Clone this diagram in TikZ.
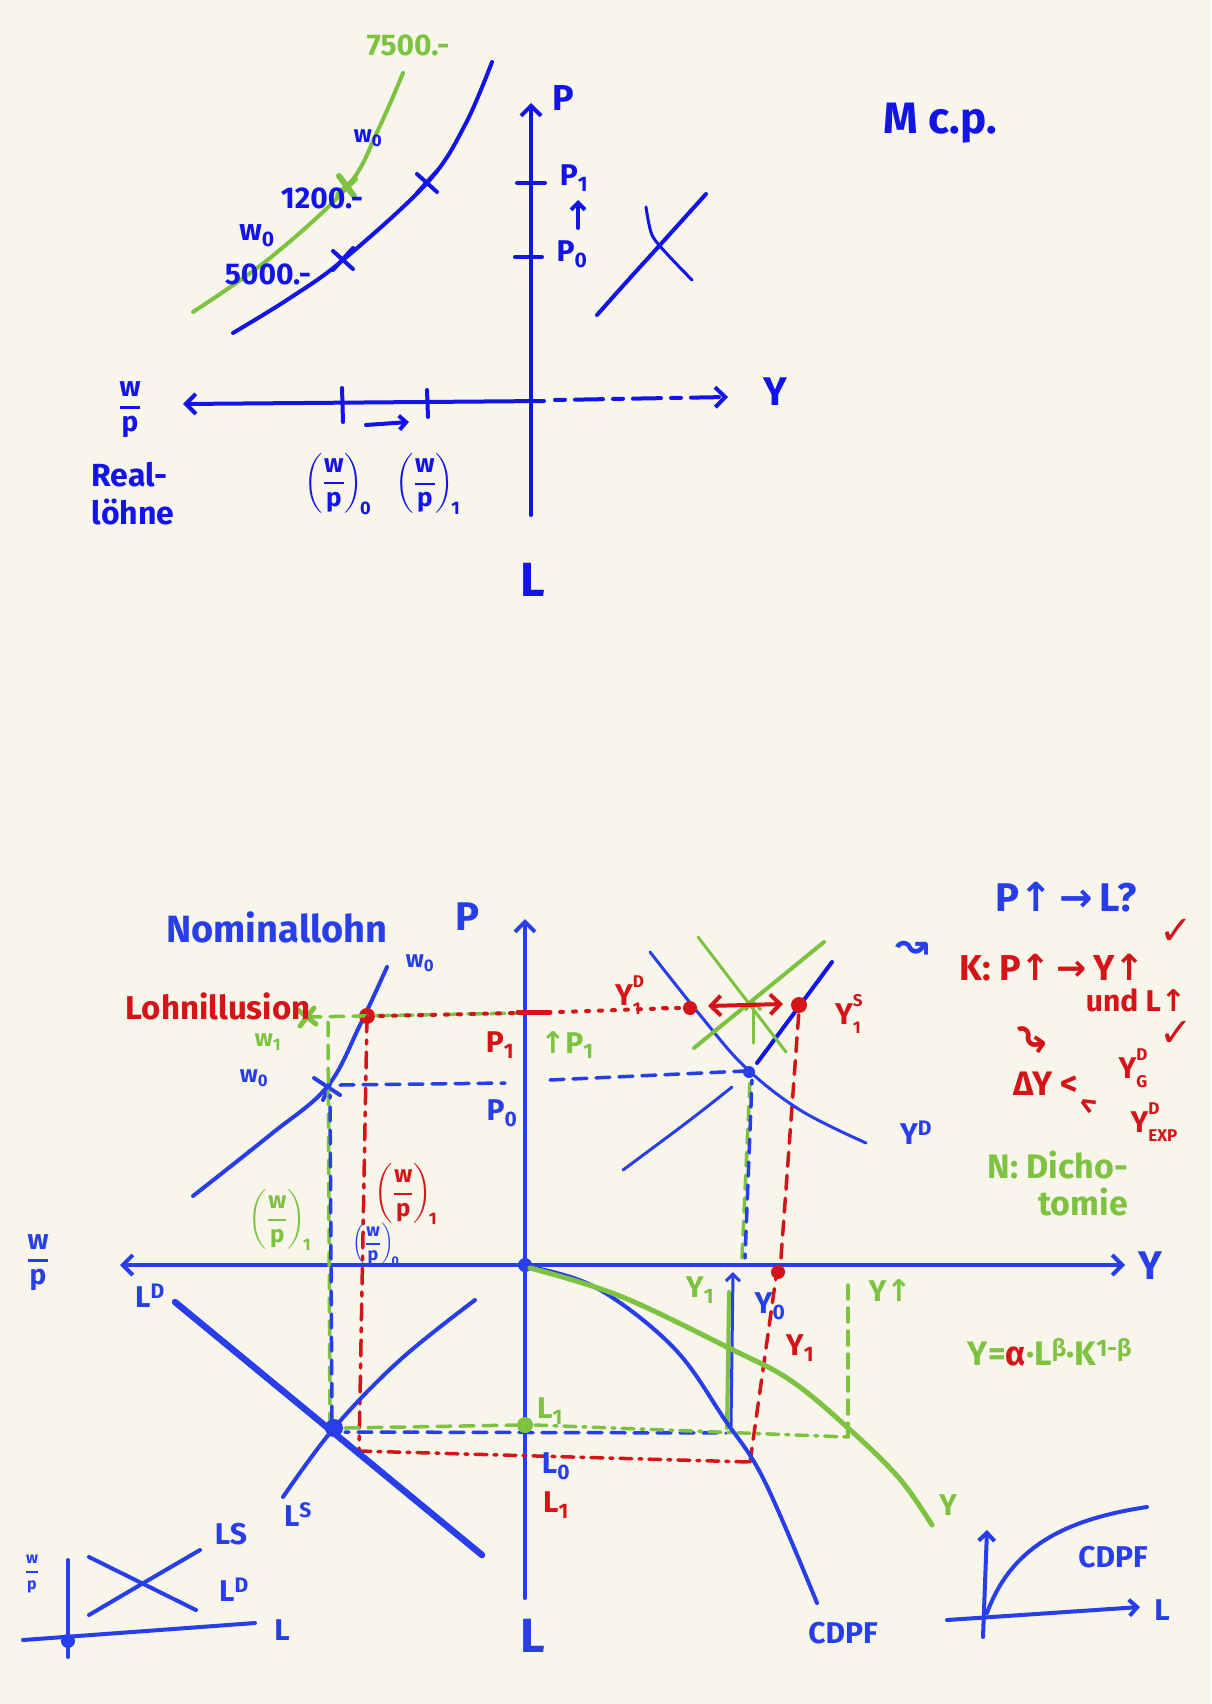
\documentclass[tikz,border=0pt]{standalone}
\usepackage{amsmath}
\usepackage{fontspec}
\setmainfont{Fira Sans}
\newfontfamily\symfnt{DejaVu Sans}
\usetikzlibrary{arrows.meta}
\definecolor{bg}{RGB}{248,245,234}
\definecolor{tb}{RGB}{18,20,232}
\definecolor{pb}{RGB}{40,62,232}
\definecolor{pg}{RGB}{126,194,66}
\definecolor{pr}{RGB}{212,20,24}
\newcommand\mysb[1]{\textsubscript{#1}}
\newcommand\supsub[2]{\rlap{\raisebox{0.6em}{\fontsize{17}{17}\selectfont #1}}\raisebox{-0.3em}{\fontsize{17}{17}\selectfont #2}}
\newcommand\wpf{$\genfrac{}{}{2.5pt}{0}{\text{w}}{\text{p}}$}
\newcommand\wpp[1]{$\left(\genfrac{}{}{2pt}{0}{\text{w}}{\text{p}}\right)_{\!\text{#1}}$}
\newcommand\upa{{\symfnt\bfseries ↑}}
\newcommand\ria{{\symfnt\bfseries →}}
\begin{document}
\begin{tikzpicture}[x=1pt,y=-1pt,line cap=round,line join=round,
  ax/.style={line width=4pt},
  cur/.style={line width=4pt},
  thn/.style={line width=3pt},
  dsh/.style={line width=3.5pt,dash pattern=on 14pt off 9pt},
  dd/.style={line width=3.5pt,dash pattern=on 12pt off 7pt on 3pt off 7pt},
  dt/.style={line width=4pt,dash pattern=on 3pt off 10pt},
  arr/.style={-{Straight Barb[length=10pt,width=20pt]}},
  arrs/.style={{Straight Barb[length=10pt,width=20pt]}-{Straight Barb[length=10pt,width=20pt]}},
  lab/.style={inner sep=0pt,font=\fontsize{30}{32}\selectfont\bfseries},
  big/.style={inner sep=0pt,font=\fontsize{40}{42}\selectfont\bfseries},
  sml/.style={inner sep=0pt,font=\fontsize{24}{26}\selectfont\bfseries},
  sym/.style={inner sep=0pt,font=\fontsize{40}{42}\symfnt\bfseries}]
\fill[bg] (0,0) rectangle (1211,1704);
\useasboundingbox (0,0) rectangle (1211,1704);

% ================= TOP DIAGRAM =================
\coordinate (tPtop) at (531,103);
\coordinate (tPbot) at (531,515);
\coordinate (tO) at (544,401);
\coordinate (tWL) at (183,404);
\coordinate (tYs) at (555,400);
\coordinate (tYe) at (728,397);
\draw[ax,tb,arr] (tPbot) -- (tPtop);
\draw[ax,tb,arr] (tO) -- (tWL);
\draw[ax,tb,dash pattern=on 10pt off 10pt on 28pt off 10pt,arr] (tYs) -- (tYe);
% ticks
\draw[ax,tb] (342,388) -- (343,422);
\draw[ax,tb] (427,390) -- (428,417);
\draw[ax,tb] (517,183) -- (545,183);
\draw[ax,tb] (515,257) -- (542,257);
\draw[ax,tb,-{Straight Barb[length=7pt,width=14pt]}] (366,425) -- (409,422);
\draw[ax,tb,-{Straight Barb[length=7pt,width=14pt]}] (578,228) -- (578,200);
% curves
\draw[cur,tb] plot[smooth,tension=0.6] coordinates {(233,333) (290,298) (343,260) (427,183) (465,125) (492,62)};
\draw[cur,pg] plot[smooth,tension=0.6] coordinates {(193,312) (270,258) (347,187) (378,130) (403,73)};
\foreach \p in {(343,260),(427,183)} {
  \draw[ax,tb] \p ++(-10,-9) -- ++(20,18);
  \draw[ax,tb] \p ++(10,-12) -- ++(-20,22);
}
\draw[line width=6pt,pg] (339,176) -- (354,196);
\draw[line width=6pt,pg] (355,179) -- (338,195);
% top right cross
\draw[cur,tb] plot[smooth] coordinates {(597,315) (630,278) (660,245) (706,194)};
\draw[thn,tb] plot[smooth] coordinates {(646,207) (652,235) (668,255) (692,280)};
% labels
\node[lab,tb,font=\fontsize{36}{38}\selectfont\bfseries] (tP) at (563,98) {P};
\node[lab,tb] (tP1) at (574,178) {P\mysb{1}};
\node[lab,tb] (tP0) at (572,254) {P\mysb{0}};
\node[big,tb] (tY) at (775,392) {Y};
\node[big,tb,font=\fontsize{48}{50}\selectfont\bfseries] (tL) at (533,580) {L};
\node[lab,tb,font=\fontsize{28}{30}\selectfont\bfseries] (twp) at (130,410) {\wpf};
\node[lab,tb,align=left,font=\fontsize{32}{38}\selectfont\bfseries] (treal) at (133,494) {Real-\\löhne};
\node[lab,tb,font=\fontsize{26}{28}\selectfont\bfseries] (twp0) at (338,484) {\wpp{0}};
\node[lab,tb,font=\fontsize{26}{28}\selectfont\bfseries] (twp1) at (428,484) {\wpp{1}};
\node[lab,pg] (t7500) at (408,45) {7500.-};
\node[sml,tb] (tw0a) at (368,138) {w\mysb{0}};
\node[lab,tb] (t1200) at (322,198) {1200.-};
\node[lab,tb] (tw0b) at (257,236) {w\mysb{0}};
\node[lab,tb] (t5000) at (268,274) {5000.-};
\node[big,tb,font=\fontsize{44}{46}\selectfont\bfseries] (tmcp) at (940,123) {M c.p.};

% ================= BOTTOM DIAGRAM =================
\coordinate (O) at (525,1265);
\coordinate (Ptop) at (525,919);
\coordinate (Pbot) at (525,1598);
\coordinate (WL) at (120,1265);
\coordinate (YR) at (1125,1265);
\draw[ax,pb,arr] (Pbot) -- (Ptop);
\draw[ax,pb,arr] (O) -- (WL);
\draw[ax,pb,arr] (O) -- (YR);
\fill[pb] (O) circle (7pt);

% nominal wage line
\draw[cur,pb] plot[smooth,tension=0.6] coordinates {(193,1196) (270,1135) (327,1087) (360,1025) (387,967)};
\draw[ax,pb] (314,1078) -- (340,1095);
\draw[ax,pb] (330,1084) -- (323,1100);
% green w1 mark and red dot
\draw[line width=5pt,pg] (298,1010) -- (316,1024);
\draw[line width=5pt,pg] (314,1008) -- (300,1026);
\coordinate (RdA) at (367,1016);
\fill[pr] (RdA) circle (8pt);
% horizontal P1 / P0 lines
\draw[dsh,pg] (307,1017) -- (520,1013);
\draw[dt,pr] (380,1016) -- (518,1013);
\draw[line width=5pt,pr] (518,1012) -- (550,1012);
\draw[dt,pr] (560,1012) -- (676,1008);
\draw[dsh,pb] (340,1085) -- (505,1083);
\draw[dsh,pb] (550,1080) -- (745,1071);
% verticals down to labour market
\draw[dsh,pg] (328,1022) -- (330,1425);
\draw[dsh,pb,dash phase=11pt] (330,1095) -- (332,1425);
\draw[line width=3.5pt,pr,dash pattern=on 16pt off 8pt on 4pt off 8pt] (RdA) -- (359,1451);
\draw[dd,pr] (359,1451) -- (750,1462);
\draw[dsh,pr] (750,1462) -- (777,1270);
\fill[pr] (778,1272) circle (7pt);
\draw[dsh,pr] (781,1258) -- (799,1010);

% labour market
\draw[line width=6.5pt,pb] (175,1302) -- (482,1555);
\draw[cur,pb] plot[smooth,tension=0.6] coordinates {(283,1497) (334,1428) (400,1360) (475,1300)};
\fill[pb] (334,1428) circle (9pt);
\draw[dsh,pg] (345,1428) -- (520,1425);
\draw[dsh,pb,dash phase=10pt] (345,1432) -- (726,1433);
\coordinate (GdL) at (525,1425);
\fill[pg] (GdL) circle (8pt);
\draw[dd,pg] (535,1425) -- (848,1437);
% output verticals
\draw[cur,pg] (727,1428) -- (729,1292);
\draw[thn,pb,-{Straight Barb[length=7pt,width=14pt]}] (731,1426) -- (733,1272);
\draw[dsh,pg] (742,1258) -- (750,1080);
\draw[dsh,pb,dash phase=10pt] (745,1258) -- (752,1080);
\draw[dsh,pg] (848,1437) -- (848,1280);

% production functions
\draw[cur,pb] plot[smooth,tension=0.6] coordinates {(525,1266) (595,1287) (673,1347) (725,1420) (764,1480) (817,1603)};
\draw[line width=5pt,pg] plot[smooth,tension=0.6] coordinates {(530,1268) (620,1296) (729,1348) (790,1380) (847,1427) (899,1478) (932,1525)};

% goods market
\draw[thn,pb] plot[smooth,tension=0.6] coordinates {(650,952) (700,1015) (745,1067) (800,1110) (866,1143)};
\draw[thn,pb] plot[smooth,tension=0.6] coordinates {(623,1170) (690,1120) (732,1087)};
\draw[cur,tb] plot[smooth,tension=0.6] coordinates {(757,1063) (795,1012) (832,962)};
\fill[pb] (749,1072) circle (6pt);
\draw[thn,pg] (698,937) -- (786,1052);
\draw[cur,pg] (694,1048) -- (824,942);
\draw[thn,pg,-{Straight Barb[length=8pt,width=16pt]}] (753,1043) -- (753,1000);
\coordinate (RdL) at (690,1008);
\coordinate (RdR) at (799,1005);
\fill[pr] (RdL) circle (7pt);
\fill[pr] (RdR) circle (8pt);
\draw[line width=4pt,pr,arrs] (708,1006) -- (783,1004);

% bottom-left inset
\draw[ax,pb] (68,1560) -- (68,1657);
\draw[ax,pb] (23,1640) -- (255,1623);
\fill[pb] (68,1641) circle (7pt);
\draw[cur,pb] (89,1557) -- (196,1610);
\draw[cur,pb] plot[smooth] coordinates {(89,1615) (140,1585) (200,1550)};
% bottom-right inset
\draw[ax,pb,-{Straight Barb[length=8pt,width=16pt]}] (983,1637) -- (987,1530);
\draw[ax,pb,-{Straight Barb[length=8pt,width=16pt]}] (947,1620) -- (1140,1607);
\draw[cur,pb] (987,1613) .. controls (1010,1550) and (1060,1520) .. (1147,1507);

% ---- labels bottom ----
\node[big,pb] (bP) at (467,917) {P};
\node[big,pb,font=\fontsize{48}{50}\selectfont\bfseries] (bL) at (533,1636) {L};
\node[lab,pb,font=\fontsize{28}{30}\selectfont\bfseries] (bwp) at (38,1263) {\wpf};
\node[big,pb] (bY) at (1150,1266) {Y};
\node[big,pb,font=\fontsize{38}{40}\selectfont\bfseries] (nom) at (277,927) {Nominallohn};
\node[lab,pr,font=\fontsize{33}{35}\selectfont\bfseries] (lohn) at (218,1006) {Lohnillusion};
\node[sml,pb] (w0a) at (420,963) {w\mysb{0}};
\node[sml,pg] (w1) at (268,1042) {w\mysb{1}};
\node[sml,pb] (w0b) at (254,1078) {w\mysb{0}};
\node[lab,pr] (bP1) at (500,1045) {P\mysb{1}};
\node[lab,pb] (bP0) at (502,1113) {P\mysb{0}};
\node[lab,pg] (bP1g) at (567,1045) {\upa P\mysb{1}};
\node[sml,pg] (wp1g) at (280,1220) {\wpp{1}};
\node[sml,pb,font=\fontsize{18}{20}\selectfont\bfseries] (wp0b) at (376,1244) {\wpp{0}};
\node[sml,pr] (wp1r) at (406,1194) {\wpp{1}};
\node[lab,pb] (LD) at (150,1296) {L\textsuperscript{D}};
\node[lab,pb] (LSb) at (298,1515) {L\textsuperscript{S}};
\node[lab,pb] (LSs) at (231,1534) {LS};
\node[lab,pb] (LDs) at (234,1590) {L\textsuperscript{D}};
\node[sml,pb,font=\fontsize{16}{18}\selectfont\bfseries] (iwp) at (32,1574) {\wpf};
\node[lab,pb] (iL) at (282,1630) {L};
\node[lab,pg] (L1g) at (550,1411) {L\mysb{1}};
\node[lab,pb] (L0b) at (556,1466) {L\mysb{0}};
\node[lab,pr] (L1r) at (556,1505) {L\mysb{1}};
\node[lab,pg] (Y1g) at (700,1290) {Y\mysb{1}};
\node[lab,pb] (Y0b) at (770,1306) {Y\mysb{0}};
\node[lab,pr] (Y1r) at (800,1348) {Y\mysb{1}};
\node[lab,pg] (Yupg) at (890,1290) {Y\upa};
\node[lab,pb] (cdpf1) at (843,1633) {CDPF};
\node[lab,pb] (cdpf2) at (1113,1557) {CDPF};
\node[lab,pg] (Ycur) at (948,1505) {Y};
\node[lab,pb] (iL2) at (1162,1610) {L};
\node[lab,pr] (YD1) at (628,995) {Y\supsub{D}{1}};
\node[lab,pr] (YS1) at (848,1014) {Y\supsub{S}{1}};
\draw[dt,pr] (663,1008) -- (680,1008);
\node[lab,pb] (YDb) at (916,1133) {Y\textsuperscript{D}};
% right text block
\node[big,pb] (q) at (1066,897) {P\upa\,\ria\,L?};
\node[sym,pb] (sq) at (912,950) {↝};
\node[big,pr,font=\fontsize{36}{38}\selectfont\bfseries] (k1) at (1052,968) {K: P\upa\,\ria\,Y\upa};
\node[sym,pr] (chk1) at (1176,932) {✓};
\node[lab,pr] (k2) at (1136,1000) {und L\upa};
\node[sym,pr,rotate=-35] (sq2) at (1029,1040) {↝};
\node[big,pr,font=\fontsize{34}{36}\selectfont\bfseries] (k3) at (1046,1084) {ΔY <};
\node[lab,pr] (k4) at (1133,1068) {Y\supsub{D}{G}};
\node[sym,pr] (chk2) at (1176,1034) {✓};
\node[lab,pr,rotate=-30] (k5) at (1088,1106) {<};
\node[lab,pr] (k6) at (1154,1122) {Y\supsub{D}{EXP}};
\node[lab,pg,font=\fontsize{34}{36}\selectfont\bfseries] (n1) at (1058,1165) {N: Dicho-};
\node[lab,pg,font=\fontsize{34}{36}\selectfont\bfseries] (n2) at (1083,1202) {tomie};
\node[lab,pg,font=\fontsize{34}{36}\selectfont\bfseries] (cd) at (1050,1352) {Y=\textcolor{pr}{α}·L\textsuperscript{β}·K\textsuperscript{1-β}};
\end{tikzpicture}
\end{document}
